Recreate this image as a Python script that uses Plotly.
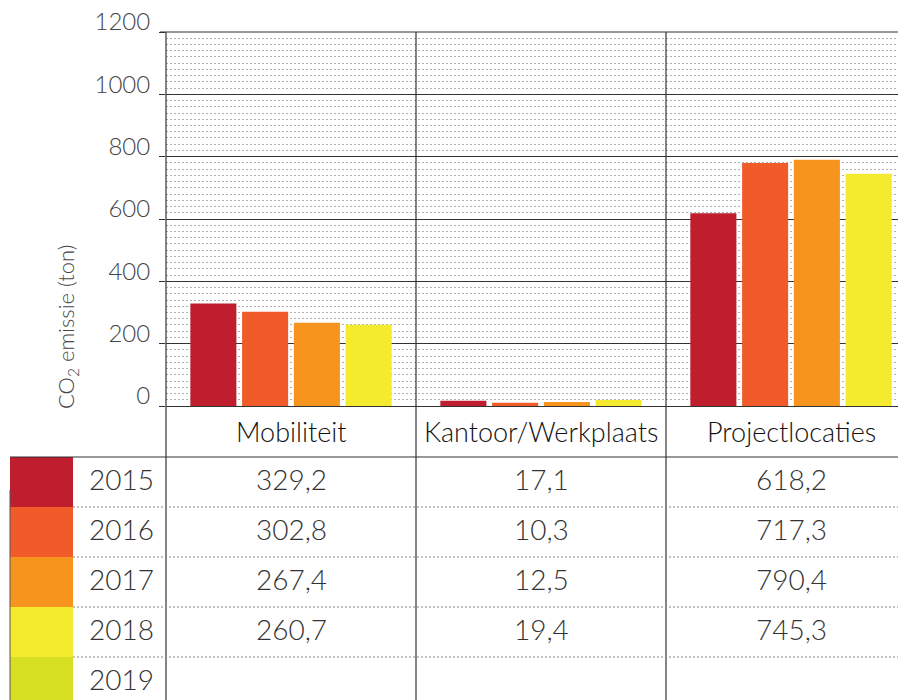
import plotly.graph_objects as go

# data
categories = ["Mobiliteit", "Kantoor/Werkplaats", "Projectlocaties"]
years = ["2015", "2016", "2017", "2018", "2019"]
year_colors = ["#BE1E2D", "#F15A29", "#F7941D", "#F4EB2F", "#D7DF23"]

# bar heights per year (Mobiliteit, Kantoor/Werkplaats, Projectlocaties)
bars_2015 = [329.2, 17.1, 618.2]
bars_2016 = [302.8, 10.3, 780.0]
bars_2017 = [267.4, 12.5, 790.4]
bars_2018 = [260.7, 19.4, 745.3]

# values as printed in the table below the chart
table_mobiliteit = ["329,2", "302,8", "267,4", "260,7", ""]
table_kantoor = ["17,1", "10,3", "12,5", "19,4", ""]
table_project = ["618,2", "717,3", "790,4", "745,3", ""]

FONT = "Lato"
WEIGHT = 300
W, H = 906, 700
OFF = 8            # page body margin of the browser
L, T = 166 - OFF, 32 - OFF
PW, PH = W - L, 374
X0 = -0.5
X1 = X0 + PW / 250.0


# positions below are given in screen pixels
def px_x(px):
    return (px - OFF - L) / PW


def px_y(py):
    return (T + PH - (py - OFF)) / PH


fig = go.Figure()
for yr, vals, col in zip(years, [bars_2015, bars_2016, bars_2017, bars_2018], year_colors):
    fig.add_trace(go.Bar(x=categories, y=vals, name=yr, marker=dict(color=col, line=dict(width=0)),
                         showlegend=False, hoverinfo="x+y"))

shapes = []
annotations = []
line_col = "#333333"

# vertical dividers: axis and category borders, down through the table
for k in range(3):
    xp = ((k - 0.5) - X0) / (X1 - X0)
    shapes.append(dict(type="line", xref="paper", yref="paper", x0=xp, x1=xp,
                       y0=1, y1=px_y(H + OFF), line=dict(color=line_col, width=1.2), layer="above"))

# top border of the plot and tick at 1200
shapes.append(dict(type="line", xref="paper", yref="paper", x0=px_x(160), x1=1.02,
                   y0=1, y1=1, line=dict(color=line_col, width=1.2)))

# table header bottom line
shapes.append(dict(type="line", xref="paper", yref="paper", x0=px_x(10), x1=1.02,
                   y0=px_y(457), y1=px_y(457), line=dict(color=line_col, width=1.2)))
# thin line at left of swatches
shapes.append(dict(type="line", xref="paper", yref="paper", x0=px_x(10), x1=px_x(10),
                   y0=px_y(490), y1=px_y(H + OFF), line=dict(color="#555555", width=1)))

row_top = 457
row_h = 50
for i, yr in enumerate(years):
    top = row_top + i * row_h
    bot = top + row_h
    shapes.append(dict(type="rect", xref="paper", yref="paper", x0=px_x(10), x1=px_x(73),
                       y0=px_y(top), y1=px_y(bot), fillcolor=year_colors[i], line=dict(width=0),
                       layer="below"))
    if i < len(years) - 1:
        shapes.append(dict(type="line", xref="paper", yref="paper", x0=px_x(73), x1=1.02,
                           y0=px_y(top + row_h), y1=px_y(top + row_h),
                           line=dict(color="#888888", width=1, dash="2px,2px")))
    cy = px_y(top + 22)
    annotations.append(dict(text=yr, xref="paper", yref="paper", x=px_x(121), y=cy,
                            showarrow=False, xanchor="center", yanchor="middle",
                            font=dict(family=FONT, weight=WEIGHT, size=28, color="#333333")))
    for k, col_vals in enumerate([table_mobiliteit, table_kantoor, table_project]):
        if col_vals[i]:
            annotations.append(dict(text=col_vals[i], xref="paper", yref="paper",
                                    x=(k - X0) / (X1 - X0), y=cy, showarrow=False,
                                    xanchor="center", yanchor="middle",
                                    font=dict(family=FONT, weight=WEIGHT, size=28, color="#333333")))

for k, cat in enumerate(categories):
    annotations.append(dict(text=cat, xref="paper", yref="paper", x=(k - X0) / (X1 - X0),
                            y=px_y(431), showarrow=False, xanchor="center", yanchor="middle",
                            font=dict(family=FONT, weight=WEIGHT, size=27, color="#111111")))

annotations.append(dict(text="CO<sub>2</sub> emissie (ton)", xref="paper", yref="paper",
                        x=px_x(67), y=px_y(327), textangle=-90, showarrow=False,
                        xanchor="center", yanchor="middle",
                        font=dict(family=FONT, weight=WEIGHT, size=22, color="#444444")))

fig.update_layout(
    width=W, height=H,
    margin=dict(l=L, r=0, t=T, b=H - T - PH, pad=0, autoexpand=False),
    paper_bgcolor="white", plot_bgcolor="white",
    barmode="group", bargap=0.172, bargroupgap=0.11,
    shapes=shapes, annotations=annotations,
    font=dict(family=FONT, weight=WEIGHT),
)
fig.update_xaxes(range=[X0, X1], showticklabels=False, showgrid=False, zeroline=False,
                 showline=False, ticks="", automargin=False)
fig.update_yaxes(range=[0, 1200], dtick=200, tick0=0, showgrid=True, gridcolor=line_col,
                 gridwidth=1.2, zeroline=True, zerolinecolor=line_col, zerolinewidth=1.2,
                 ticks="outside", ticklen=6, tickcolor=line_col, tickwidth=1.2,
                 ticklabelshift=-10, ticklabelstandoff=4, automargin=False,
                 ticklabeloverflow="allow",
                 tickfont=dict(family=FONT, weight=WEIGHT, size=24, color="#444444"),
                 minor=dict(dtick=20, showgrid=True, gridcolor="#b0b0b0", gridwidth=1,
                            griddash="2px,2px", ticks=""),
                 layer="below traces")

fig.write_html("out.html")
